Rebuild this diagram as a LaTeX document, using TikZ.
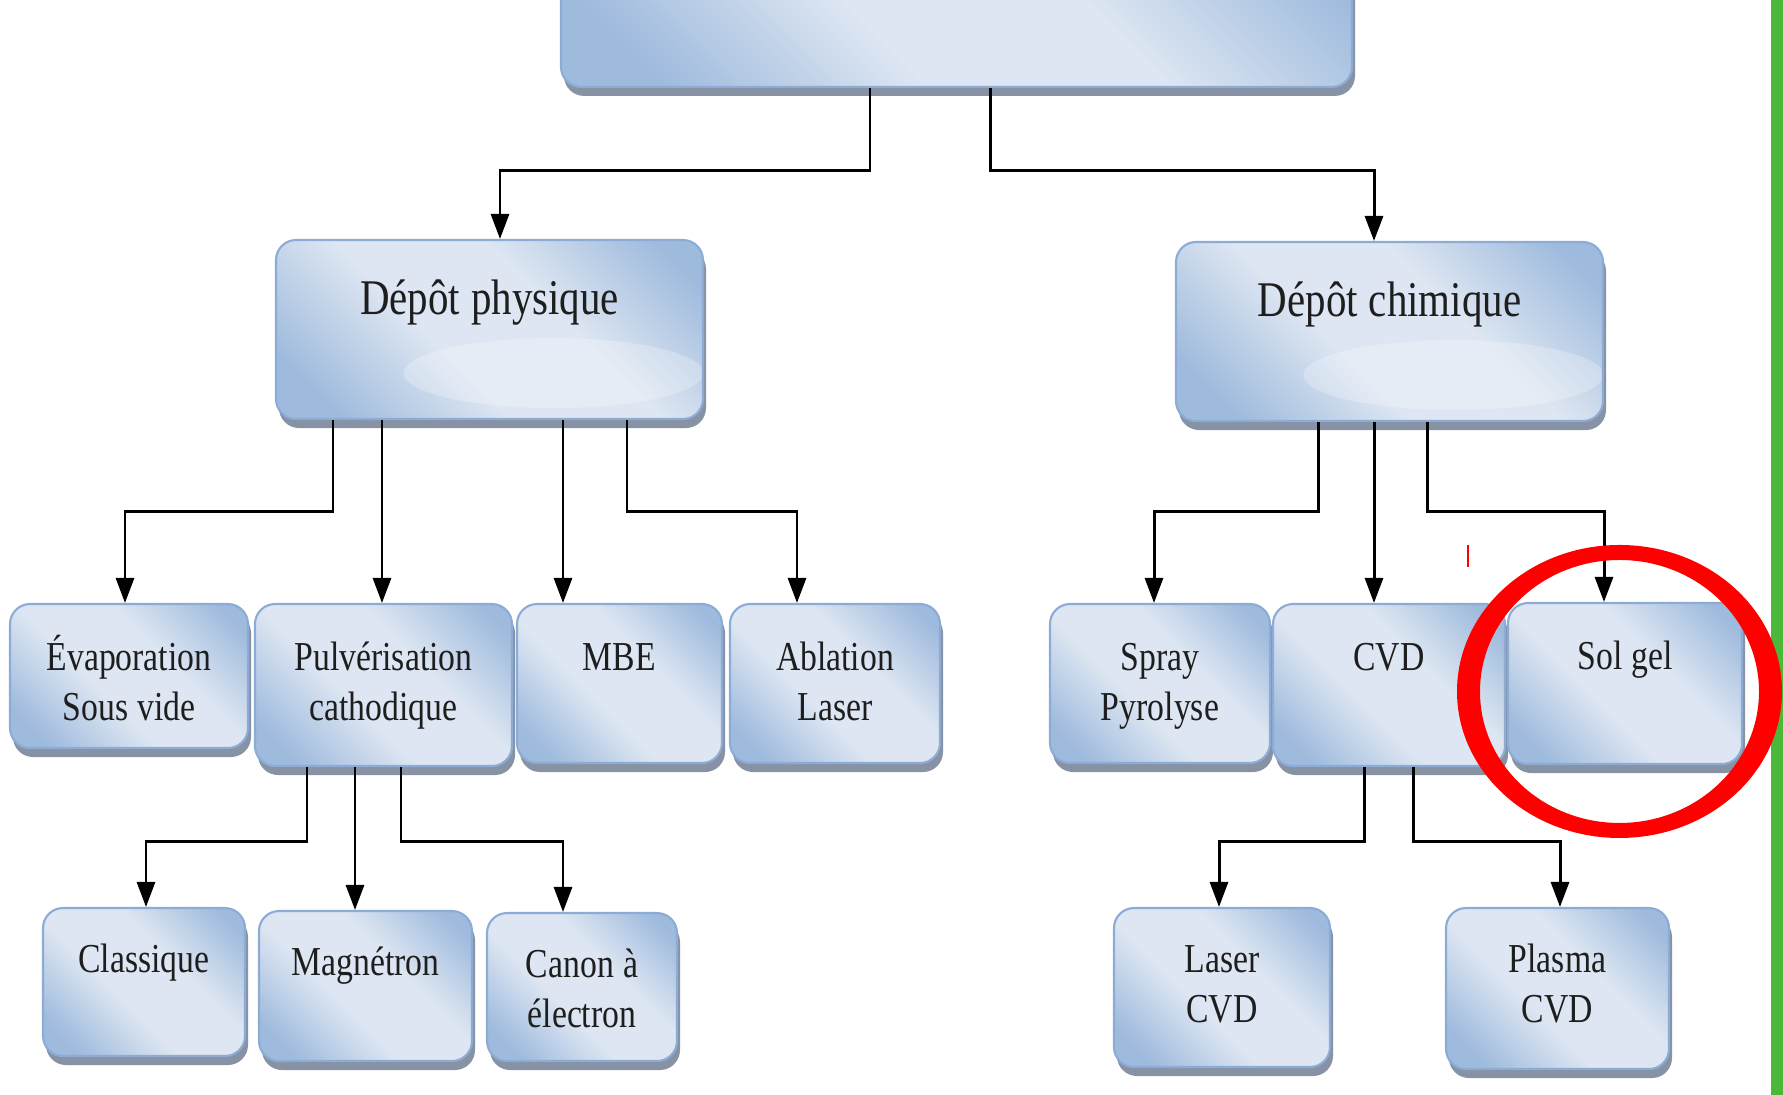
\documentclass[tikz,border=0pt]{standalone}
\usepackage{fontspec}
\usepackage{tikz}
\usetikzlibrary{arrows.meta,shadows}

\newfontfamily\etroite{Liberation Serif}[FakeStretch=0.82]
\newcommand{\grand}{\etroite\fontsize{14.2}{17}\selectfont}
\newcommand{\petit}{\etroite\fontsize{11.7}{14.5}\selectfont}

\definecolor{bleuclair}{RGB}{221,230,242}
\definecolor{bleufonce}{RGB}{158,186,221}
\definecolor{bordbleu}{RGB}{140,172,214}
\definecolor{ombre}{RGB}{135,146,164}
\definecolor{encre}{RGB}{30,30,30}
\definecolor{vert}{RGB}{76,184,58}

\pgfdeclareverticalshading{degrade}{100bp}{color(0bp)=(bleufonce); color(22bp)=(bleufonce); color(42bp)=(bleuclair); color(60bp)=(bleuclair); color(80bp)=(bleufonce); color(100bp)=(bleufonce)}

\begin{document}
\begin{tikzpicture}[>={Triangle[length=0.25cm,width=0.18cm]}]
	\tikzstyle{boite} = [draw=bordbleu, line width=0.6pt, rounded corners=0.2cm,
		shading=degrade, shading angle=-45,
		drop shadow={shadow xshift=0.03cm, shadow yshift=-0.09cm, fill=ombre, opacity=1},
		anchor=north, inner sep=0pt, align=center, text=encre,
		execute at begin node={\spaceskip=0.22em\xspaceskip=0.22em\relax}]
	\tikzstyle{grande} = [boite, font=\grand, text height=0.74cm, text depth=1.05cm, text width=4.27cm,
		path picture={\fill[white, opacity=0.25] ([xshift=0.64cm, yshift=-0.435cm]path picture bounding box.center) ellipse (1.5cm and 0.35cm);}]
	\tikzstyle{petite} = [boite, font=\petit, text height=0.66cm]
	\tikzstyle{basse} = [boite, font=\petit, text height=0.64cm]
	\tikzstyle{fleche} = [->, line width=0.85pt, black]

	\useasboundingbox (0,0) rectangle (17.83,10.95);
	\clip (0,0) rectangle (17.83,10.95);

	% niveau 0 et 1
	\node [boite, anchor=south, text width=7.91cm, minimum height=1.6cm] (racine) at (9.565,10.07) {};
	\node [grande] (phys) at (4.895,8.56) {Dépôt physique};
	\node [grande] (chim) at (13.895,8.54) {Dépôt chimique};

	% niveau 2
	\node [petite, text width=2.38cm, text depth=0.78cm] (evap) at (1.29,4.92) {Évaporation\\Sous vide};
	\node [petite, text width=2.57cm, text depth=0.96cm] (pulv) at (3.835,4.92) {Pulvérisation\\cathodique};
	\node [petite, text width=2.05cm, text depth=0.93cm] (mbe) at (6.195,4.92) {MBE};
	\node [petite, text width=2.10cm, text depth=0.93cm] (abl) at (8.35,4.92) {Ablation\\Laser};
	\node [petite, text width=2.20cm, text depth=0.93cm] (spray) at (11.60,4.92) {Spray\\Pyrolyse};
	\node [petite, text width=2.32cm, text depth=0.96cm] (cvd) at (13.89,4.92) {CVD};
	\node [petite, text width=2.34cm, text depth=0.95cm] (solgel) at (16.25,4.93) {Sol gel};

	% niveau 3
	\node [basse, text width=2.02cm, text depth=0.84cm] (classique) at (1.44,1.88) {Classique};
	\node [basse, text width=2.13cm, text depth=0.86cm] (magnetron) at (3.655,1.85) {Magnétron};
	\node [basse, text width=1.90cm, text depth=0.84cm] (canon) at (5.82,1.83) {Canon à\\électron};
	\node [basse, text width=2.16cm, text depth=0.95cm] (laser) at (12.22,1.88) {Laser\\CVD};
	\node [basse, text width=2.23cm, text depth=0.97cm] (plasma) at (15.575,1.88) {Plasma\\CVD};

	\draw [fleche] ([xshift=-0.865cm]racine.south) -- ++(0,-0.83) -| ([xshift=0.105cm]phys.north);
	\draw [fleche] ([xshift=0.335cm]racine.south) -- ++(0,-0.83) -| ([xshift=-0.155cm]chim.north);

	\draw [fleche] ([xshift=-1.565cm]phys.south) -- ++(0,-0.91) -| ([xshift=-0.04cm]evap.north);
	\draw [fleche] ([xshift=-1.075cm]phys.south) -- ([xshift=-1.075cm]phys.south |- pulv.north);
	\draw [fleche] ([xshift=0.735cm]phys.south) -- ([xshift=0.735cm]phys.south |- mbe.north);
	\draw [fleche] ([xshift=1.375cm]phys.south) -- ++(0,-0.91) -| ([xshift=-0.38cm]abl.north);

	\draw [fleche] ([xshift=-0.715cm]chim.south) -- ++(0,-0.89) -| ([xshift=-0.06cm]spray.north);
	\draw [fleche] ([xshift=-0.155cm]chim.south) -- ([xshift=-0.155cm]chim.south |- cvd.north);
	\draw [fleche] ([xshift=0.375cm]chim.south) -- ++(0,-0.89) -| ([xshift=-0.21cm]solgel.north);

	\draw [fleche] ([xshift=-0.765cm]pulv.south) -- ++(0,-0.74) -| ([xshift=0.02cm]classique.north);
	\draw [fleche] ([xshift=-0.285cm]pulv.south) -- ([xshift=-0.285cm]pulv.south |- magnetron.north);
	\draw [fleche] ([xshift=0.175cm]pulv.south) -- ++(0,-0.74) -| ([xshift=-0.19cm]canon.north);

	\draw [fleche] ([xshift=-0.25cm]cvd.south) -- ++(0,-0.74) -| ([xshift=-0.03cm]laser.north);
	\draw [fleche] ([xshift=0.24cm]cvd.south) -- ++(0,-0.74) -| ([xshift=0.025cm]plasma.north);

	% marques
	\fill [vert] (17.71,0) rectangle (17.83,10.95);
	\draw [red, line width=0.5pt] (14.68,5.28) -- (14.68,5.50);
	\fill [red, even odd rule] (16.195,4.035) ellipse (1.625cm and 1.465cm) (16.195,4.035) ellipse (1.395cm and 1.315cm);
\end{tikzpicture}
\end{document}
